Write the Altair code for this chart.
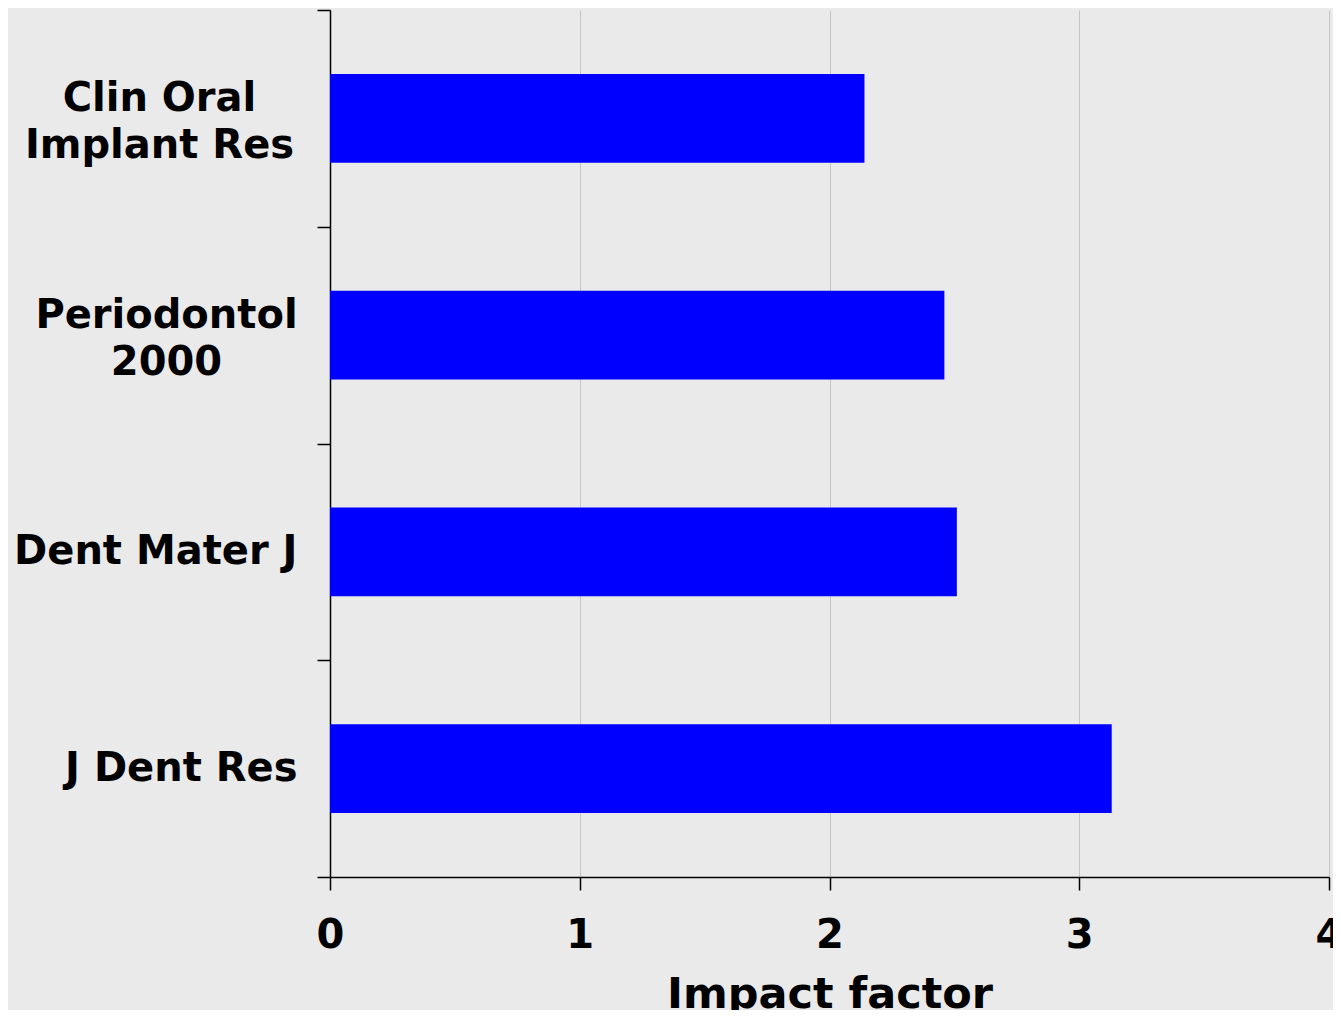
import altair as alt
import pandas as pd

# "|" separates the lines of a two-line label
journals = ["Clin Oral|Implant Res", "Periodontol|2000", "Dent Mater J", "J Dent Res"]
impact = [2.14, 2.46, 2.51, 3.13]
x_ticks = [0, 1, 2, 3, 4]

df = pd.DataFrame({"journal": journals, "impact": impact})

FONT = "DejaVu Sans"
MULTI = "datum.value == 'Clin Oral|Implant Res' || datum.value == 'Periodontol|2000'"

chart = alt.Chart(df).mark_bar(color="#0000ff", height=alt.RelativeBandSize(0.41)).encode(
    x=alt.X(
        "impact:Q",
        scale=alt.Scale(domain=[0, 4], nice=False, zero=True),
        axis=alt.Axis(
            title="Impact factor",
            values=x_ticks,
            format="d",
            grid=True,
            gridColor="#c4c4c4",
            gridWidth=1,
            domainColor="#000000",
            domainWidth=1.5,
            tickColor="#000000",
            tickWidth=1.5,
            tickSize=13,
            labelFont=FONT,
            labelFontWeight="bold",
            labelFontSize=40,
            labelColor="#000000",
            labelPadding=25,
            labelFlush=False,
            labelOverlap=False,
            titleFont=FONT,
            titleFontWeight="bold",
            titleFontSize=43,
            titleColor="#000000",
            titlePadding=18,
        ),
    ),
    y=alt.Y(
        "journal:N",
        sort=journals,
        scale=alt.Scale(paddingInner=0, paddingOuter=0),
        axis=alt.Axis(
            title=None,
            grid=False,
            tickBand="extent",
            domainColor="#000000",
            domainWidth=1.5,
            tickColor="#000000",
            tickWidth=1.5,
            tickSize=13,
            labelExpr="split(datum.label, '|')",
            labelFont=FONT,
            labelFontWeight="bold",
            labelFontSize=40,
            labelColor="#000000",
            labelLineHeight=47,
            labelBaseline={
                "condition": {"test": MULTI, "value": "bottom"},
                "value": "middle",
            },
            labelAlign={
                "condition": {"test": MULTI, "value": "center"},
                "value": "right",
            },
            labelPadding={
                "condition": [
                    {"test": "datum.value == 'Clin Oral|Implant Res'", "value": 158},
                    {"test": "datum.value == 'Periodontol|2000'", "value": 151},
                ],
                "value": 20,
            },
            labelLimit=0,
        ),
    ),
).properties(
    width=999,
    height=867,
    autosize=alt.AutoSizeParams(type="none"),
    padding={"left": 322, "top": 2, "right": 4, "bottom": 133},
    background="#eaeaea",
).configure_view(stroke=None)

chart.save("out.html", embed_options={"renderer": "svg", "actions": False})
